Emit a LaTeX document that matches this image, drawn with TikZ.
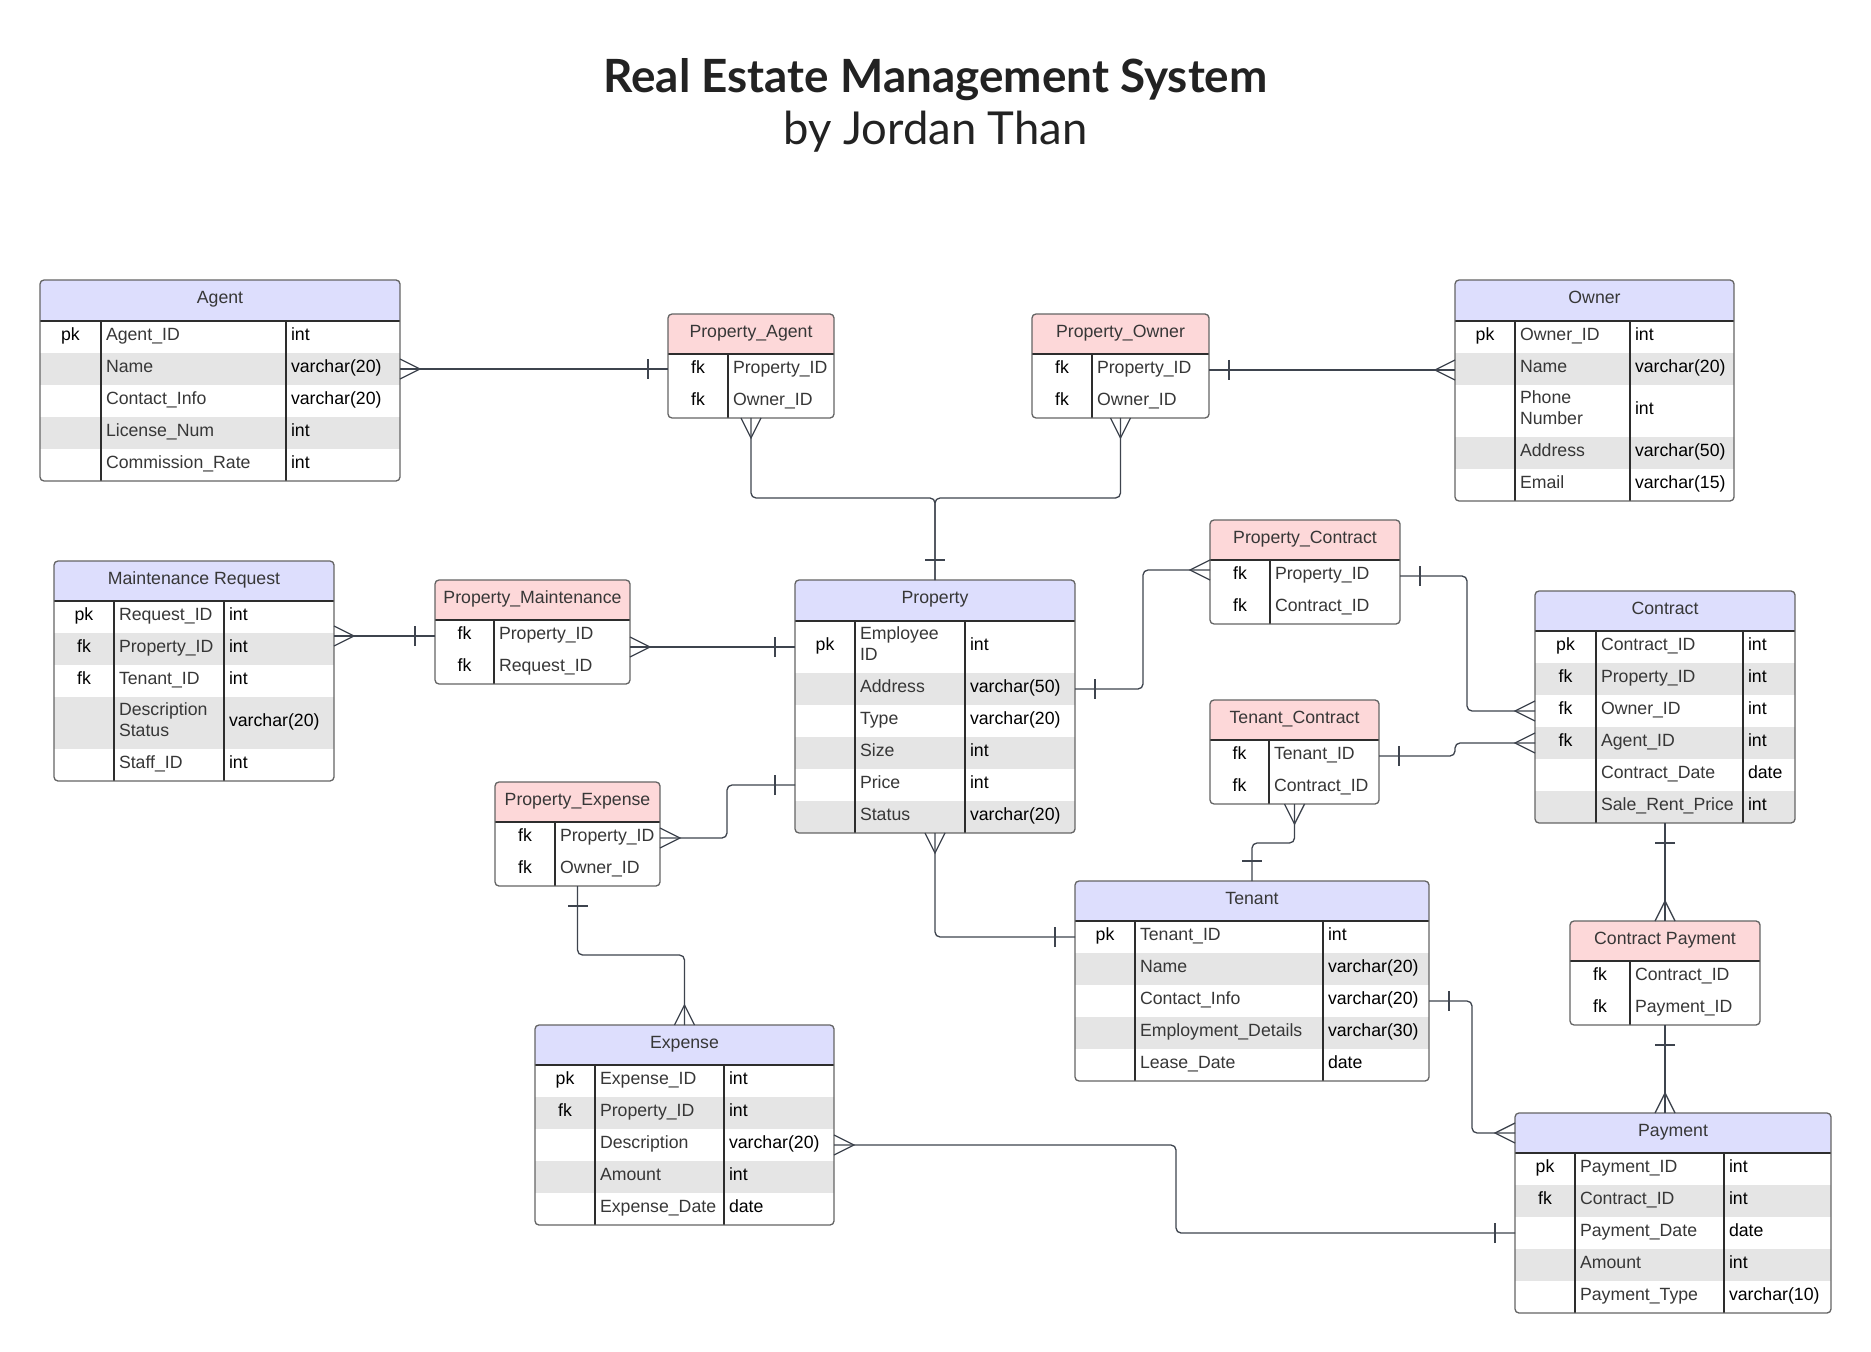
\documentclass[tikz,border=0pt]{standalone}
\usepackage{fontspec}
\setmainfont{Liberation Sans}
\newfontfamily\latofont{Lato}
\usetikzlibrary{fit}
\definecolor{hdrblue}{RGB}{221,222,253}
\definecolor{hdrpink}{RGB}{253,216,217}
\definecolor{stripe}{RGB}{229,229,229}
\definecolor{boxline}{RGB}{100,100,100}
\definecolor{innerline}{RGB}{45,45,45}
\definecolor{connline}{RGB}{62,68,78}
\definecolor{namecol}{RGB}{55,55,55}
\definecolor{titlecol}{RGB}{34,34,34}
\tikzset{
  frame/.style={inner sep=0pt, outer sep=0pt},
  cellfont/.style={inner sep=0pt, outer sep=0pt, font=\fontsize{8.85}{10.5}\selectfont, text height=3.4pt, text depth=0pt},
  hdrtext/.style={cellfont, text=namecol},
  keytext/.style={cellfont, text=black},
  nametext/.style={cellfont, text=namecol},
  typetext/.style={cellfont, text=black},
  divline/.style={draw=innerline, line width=0.6pt},
  outline/.style={draw=boxline, line width=0.65pt, rounded corners=2pt},
  conn/.style={draw=connline, line width=0.65pt, rounded corners=2.5pt},
  markline/.style={draw=connline, line width=0.65pt}
}
\newcommand\tstart[9]{%
  \def\tN{#1}\def\tL{#2}\def\tR{#3}\def\tT{#4}\def\tH{#5}\def\tBot{#6}\def\tA{#7}\def\tB{#8}%
  \node[frame, fit={(#2,#4) (#3,#6)}] (#1) {};
  \begin{scope}
  \clip[rounded corners=2pt] (#2,#4) rectangle (#3,#6);
  \fill[#9] (#2,#4) rectangle (#3,#5);
}
\newcommand\ttitle[1]{\node[frame, fit={(\tL,\tT) (\tR,\tH)}, hdrtext] (\tN-head) {#1};}
\newcommand\erow[7]{%
  \fill[#4] (\tL,#2) rectangle (\tR,#3);
  \node[frame, fit={(\tL,#2) (\tR,#3)}] (\tN-r#1) {};
  \node[keytext] (\tN-k#1) at ({(\tL+\tA)/2},{(#2+#3)/2}) {#5};
  \node[nametext, anchor=west] (\tN-n#1) at ({\tA+5},{(#2+#3)/2}) {#6};
  \if\relax\detokenize{#7}\relax\else
  \node[typetext, anchor=west] (\tN-t#1) at ({\tB+5},{(#2+#3)/2}) {#7};\fi
}
\newcommand\tend{%
  \end{scope}
  \draw[divline] (\tL,\tH) -- (\tR,\tH);
  \draw[divline] (\tA,\tH) -- (\tA,\tBot);
  \ifx\tB\empty\else\draw[divline] (\tB,\tH) -- (\tB,\tBot);\fi
  \draw[outline] (\tL,\tT) rectangle (\tR,\tBot);
}
\newcommand\twol[2]{\rlap{\raisebox{5.25pt}{#1}}\raisebox{-5.25pt}{#2}}
\newcommand\crow[2]{\draw[markline, shift={#1}, rotate=#2] (0,-10) -- (20,0) -- (0,10);}
\newcommand\onebar[2]{\draw[markline, shift={#1}, rotate=#2] (20,-10) -- (20,10);}
\begin{document}
\begin{tikzpicture}[x=0.5pt,y=-0.5pt]
\useasboundingbox (0,0) rectangle (1871,1352);
\fill[white] (0,0) rectangle (1871,1352);

\node[font=\latofont\bfseries\fontsize{22.9}{28}\selectfont, text=titlecol, anchor=base, inner sep=0pt] (title) at (935.5,93) {Real Estate Management System};
\node[font=\latofont\fontsize{22.7}{28}\selectfont, text=titlecol, anchor=base, inner sep=0pt] (subtitle) at (935.5,145) {by Jordan Than};

% Agent
\tstart{agent}{40}{400}{280}{321}{481}{101}{286}{hdrblue}
\ttitle{Agent}
\erow{1}{321}{353}{white}{pk}{Agent\_ID}{int}
\erow{2}{353}{385}{stripe}{}{Name}{varchar(20)}
\erow{3}{385}{417}{white}{}{Contact\_Info}{varchar(20)}
\erow{4}{417}{449}{stripe}{}{License\_Num}{int}
\erow{5}{449}{481}{white}{}{Commission\_Rate}{int}
\tend

% Owner
\tstart{owner}{1455}{1734}{280}{321}{501}{1515}{1630}{hdrblue}
\ttitle{Owner}
\erow{1}{321}{353}{white}{pk}{Owner\_ID}{int}
\erow{2}{353}{385}{stripe}{}{Name}{varchar(20)}
\erow{3}{385}{437}{white}{}{\twol{Phone}{Number}}{int}
\erow{4}{437}{469}{stripe}{}{Address}{varchar(50)}
\erow{5}{469}{501}{white}{}{Email}{varchar(15)}
\tend

% Property_Agent
\tstart{pa}{668}{834}{314}{354}{418}{728}{}{hdrpink}
\ttitle{Property\_Agent}
\erow{1}{354}{386}{white}{fk}{Property\_ID}{}
\erow{2}{386}{418}{white}{fk}{Owner\_ID}{}
\tend

% Property_Owner
\tstart{po}{1032}{1209}{314}{354}{418}{1092}{}{hdrpink}
\ttitle{Property\_Owner}
\erow{1}{354}{386}{white}{fk}{Property\_ID}{}
\erow{2}{386}{418}{white}{fk}{Owner\_ID}{}
\tend

% Maintenance Request
\tstart{maint}{54}{334}{561}{601}{781}{114}{224}{hdrblue}
\ttitle{Maintenance Request}
\erow{1}{601}{633}{white}{pk}{Request\_ID}{int}
\erow{2}{633}{665}{stripe}{fk}{Property\_ID}{int}
\erow{3}{665}{697}{white}{fk}{Tenant\_ID}{int}
\erow{4}{697}{749}{stripe}{}{\twol{Description}{Status}}{varchar(20)}
\erow{5}{749}{781}{white}{}{Staff\_ID}{int}
\tend

% Property_Maintenance
\tstart{pm}{435}{630}{580}{620}{684}{494}{}{hdrpink}
\ttitle{Property\_Maintenance}
\erow{1}{620}{652}{white}{fk}{Property\_ID}{}
\erow{2}{652}{684}{white}{fk}{Request\_ID}{}
\tend

% Property
\tstart{property}{795}{1075}{580}{621}{833}{855}{965}{hdrblue}
\ttitle{Property}
\erow{1}{621}{673}{white}{pk}{\twol{Employee}{ID}}{int}
\erow{2}{673}{705}{stripe}{}{Address}{varchar(50)}
\erow{3}{705}{737}{white}{}{Type}{varchar(20)}
\erow{4}{737}{769}{stripe}{}{Size}{int}
\erow{5}{769}{801}{white}{}{Price}{int}
\erow{6}{801}{833}{stripe}{}{Status}{varchar(20)}
\tend

% Property_Contract
\tstart{pc}{1210}{1400}{520}{560}{624}{1270}{}{hdrpink}
\ttitle{Property\_Contract}
\erow{1}{560}{592}{white}{fk}{Property\_ID}{}
\erow{2}{592}{624}{white}{fk}{Contract\_ID}{}
\tend

% Tenant_Contract
\tstart{tc}{1210}{1379}{700}{740}{804}{1269}{}{hdrpink}
\ttitle{Tenant\_Contract}
\erow{1}{740}{772}{white}{fk}{Tenant\_ID}{}
\erow{2}{772}{804}{white}{fk}{Contract\_ID}{}
\tend

% Contract
\tstart{contract}{1535}{1795}{591}{631}{823}{1596}{1743}{hdrblue}
\ttitle{Contract}
\erow{1}{631}{663}{white}{pk}{Contract\_ID}{int}
\erow{2}{663}{695}{stripe}{fk}{Property\_ID}{int}
\erow{3}{695}{727}{white}{fk}{Owner\_ID}{int}
\erow{4}{727}{759}{stripe}{fk}{Agent\_ID}{int}
\erow{5}{759}{791}{white}{}{Contract\_Date}{date}
\erow{6}{791}{823}{stripe}{}{Sale\_Rent\_Price}{int}
\tend

% Property_Expense
\tstart{pe}{495}{660}{782}{822}{886}{555}{}{hdrpink}
\ttitle{Property\_Expense}
\erow{1}{822}{854}{white}{fk}{Property\_ID}{}
\erow{2}{854}{886}{white}{fk}{Owner\_ID}{}
\tend

% Expense
\tstart{expense}{535}{834}{1025}{1065}{1225}{595}{724}{hdrblue}
\ttitle{Expense}
\erow{1}{1065}{1097}{white}{pk}{Expense\_ID}{int}
\erow{2}{1097}{1129}{stripe}{fk}{Property\_ID}{int}
\erow{3}{1129}{1161}{white}{}{Description}{varchar(20)}
\erow{4}{1161}{1193}{stripe}{}{Amount}{int}
\erow{5}{1193}{1225}{white}{}{Expense\_Date}{date}
\tend

% Tenant
\tstart{tenant}{1075}{1429}{881}{921}{1081}{1135}{1323}{hdrblue}
\ttitle{Tenant}
\erow{1}{921}{953}{white}{pk}{Tenant\_ID}{int}
\erow{2}{953}{985}{stripe}{}{Name}{varchar(20)}
\erow{3}{985}{1017}{white}{}{Contact\_Info}{varchar(20)}
\erow{4}{1017}{1049}{stripe}{}{Employment\_Details}{varchar(30)}
\erow{5}{1049}{1081}{white}{}{Lease\_Date}{date}
\tend

% Contract Payment
\tstart{cp}{1570}{1760}{921}{961}{1025}{1630}{}{hdrpink}
\ttitle{Contract Payment}
\erow{1}{961}{993}{white}{fk}{Contract\_ID}{}
\erow{2}{993}{1025}{white}{fk}{Payment\_ID}{}
\tend

% Payment
\tstart{payment}{1515}{1831}{1113}{1153}{1313}{1575}{1724}{hdrblue}
\ttitle{Payment}
\erow{1}{1153}{1185}{white}{pk}{Payment\_ID}{int}
\erow{2}{1185}{1217}{stripe}{fk}{Contract\_ID}{int}
\erow{3}{1217}{1249}{white}{}{Payment\_Date}{date}
\erow{4}{1249}{1281}{stripe}{}{Amount}{int}
\erow{5}{1281}{1313}{white}{}{Payment\_Type}{varchar(10)}
\tend

% ---------- connectors ----------
% Agent -- Property_Agent
\draw[conn] (agent-r2.east) -- (agent-r2.east -| pa.west);
\crow{(agent-r2.east)}{0}
\onebar{(agent-r2.east -| pa.west)}{180}
% Property_Owner -- Owner
\draw[conn] (po-r1.east) -- (po-r1.east -| owner.west);
\onebar{(po-r1.east)}{0}
\crow{(po-r1.east -| owner.west)}{180}
% Property_Agent / Property_Owner -- Property
\draw[conn] (pa.south) -- ++(0,80) -| (property.north);
\draw[conn] (po.south) -- ++(0,80) -| (property.north);
\crow{(pa.south)}{270}
\crow{(po.south)}{270}
\onebar{(property.north)}{90}
% Maintenance -- Property_Maintenance
\draw[conn] (pm-r1.west) -- (pm-r1.west -| maint.east);
\crow{(pm-r1.west -| maint.east)}{0}
\onebar{(pm-r1.west)}{180}
% Property_Maintenance -- Property
\draw[conn] (property-r1.west) -- (property-r1.west -| pm.east);
\crow{(property-r1.west -| pm.east)}{0}
\onebar{(property-r1.west)}{180}
% Property -- Property_Contract
\draw[conn] (property-r2.east) -- ++(68,0) |- ([yshift=3pt]pc-r1.west);
\onebar{(property-r2.east)}{0}
\crow{([yshift=3pt]pc-r1.west)}{180}
% Property_Contract -- Contract
\draw[conn] (pc-r1.east) -- ++(67,0) |- (contract-r3.west);
\onebar{(pc-r1.east)}{0}
\crow{(contract-r3.west)}{180}
% Tenant_Contract -- Contract
\draw[conn] (tc-r1.east) -- ++(76,0) |- (contract-r4.west);
\onebar{(tc-r1.east)}{0}
\crow{(contract-r4.west)}{180}
% Tenant_Contract -- Tenant
\draw[conn] (tc.south) -- ++(0,39) -| (tenant.north);
\crow{(tc.south)}{270}
\onebar{(tenant.north)}{90}
% Property -- Tenant
\draw[conn] (property.south) |- (tenant-r1.west);
\crow{(property.south)}{270}
\onebar{(tenant-r1.west)}{180}
% Property -- Property_Expense
\draw[conn] (property-r5.west) -- ++(-68,0) |- (pe-r1.east);
\onebar{(property-r5.west)}{180}
\crow{(pe-r1.east)}{0}
% Property_Expense -- Expense
\draw[conn] (pe.south) -- ++(0,69) -| (expense.north);
\onebar{(pe.south)}{270}
\crow{(expense.north)}{90}
% Expense -- Payment
\draw[conn] (expense-r3.east) -- ++(342,0) |- (payment-r3.west);
\crow{(expense-r3.east)}{0}
\onebar{(payment-r3.west)}{180}
% Tenant -- Payment
\draw[conn] (tenant-r3.east) -- ++(43,0) |- (payment-head.west);
\onebar{(tenant-r3.east)}{0}
\crow{(payment-head.west)}{180}
% Contract -- Contract Payment
\draw[conn] (contract.south) -- (cp.north);
\onebar{(contract.south)}{270}
\crow{(cp.north)}{90}
% Contract Payment -- Payment
\draw[conn] (cp.south) -- (cp.south |- payment.north);
\onebar{(cp.south)}{270}
\crow{(cp.south |- payment.north)}{90}
\end{tikzpicture}
\end{document}
